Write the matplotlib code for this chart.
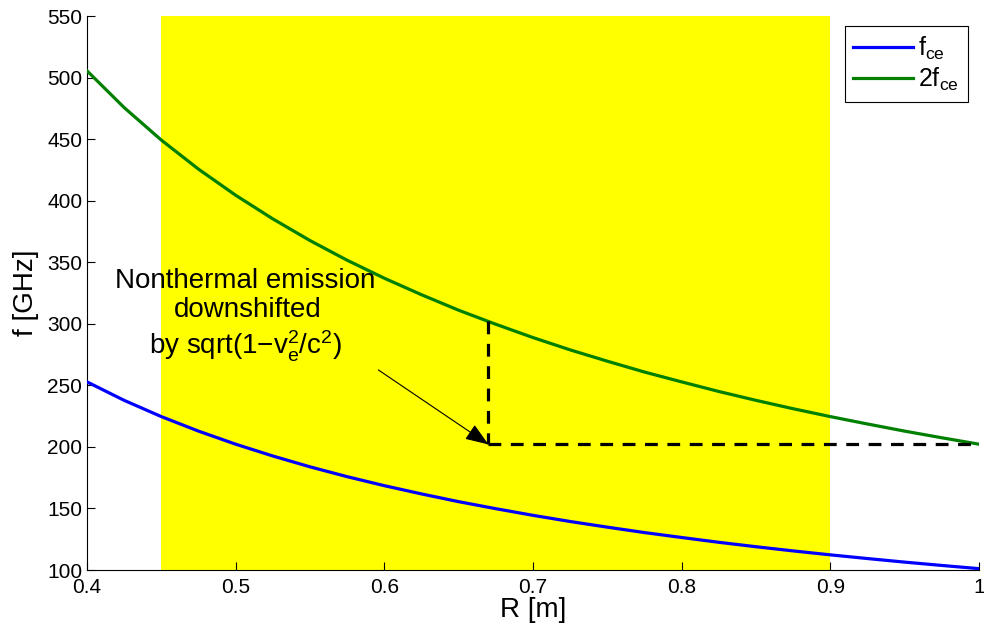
import numpy as np
import matplotlib as mpl
mpl.use('Agg')
import matplotlib.pyplot as plt

plt.rcParams['font.family'] = ['Liberation Sans', 'DejaVu Sans']
plt.rcParams['mathtext.fontset'] = 'custom'
plt.rcParams['mathtext.rm'] = 'Liberation Sans'
plt.rcParams['mathtext.it'] = 'Liberation Sans'

# major radius [m]
R = [0.4, 0.425, 0.45, 0.475, 0.5, 0.525, 0.55, 0.575, 0.6, 0.625, 0.65, 0.675, 0.7,
     0.725, 0.75, 0.775, 0.8, 0.825, 0.85, 0.875, 0.9, 0.925, 0.95, 0.975, 1.0]
# electron cyclotron frequency [GHz]
f_ce = [252.8, 237.8, 224.6, 212.8, 202.2, 192.6, 183.8, 175.8, 168.5, 161.8, 155.5, 149.8, 144.4,
        139.4, 134.8, 130.4, 126.4, 122.5, 118.9, 115.5, 112.3, 109.3, 106.4, 103.7, 101.1]
# second harmonic [GHz]
f_2ce = [505.5, 475.6, 449.2, 425.6, 404.4, 385.2, 367.6, 351.6, 337.0, 323.6, 311.0, 299.6, 288.8,
         278.8, 269.6, 260.8, 252.8, 245.0, 237.8, 231.0, 224.6, 218.6, 212.8, 207.4, 202.2]

band = (0.45, 0.9)
shift_R = 0.67
shift_top = 302
shift_bot = 202

fig = plt.figure(figsize=(9.84, 6.36), dpi=100)
ax = fig.add_axes([87/984, 1 - 570/636, (979-87)/984, (570-16)/636])

ax.axvspan(band[0], band[1], color=(1, 1, 0), lw=0, zorder=0)
ax.plot(R, f_ce, color=(0, 0, 1), lw=2.3, label=r'$\mathregular{f_{ce}}$', zorder=3)
ax.plot(R, f_2ce, color=(0, 0.5, 0), lw=2.3, label=r'$\mathregular{2f_{ce}}$', zorder=3)

ax.plot([shift_R, shift_R], [shift_top, shift_bot], 'k--', lw=2.3, dashes=(4, 3), zorder=4)
ax.plot([shift_R, 1.0], [shift_bot, shift_bot], 'k--', lw=2.3, dashes=(4, 3), zorder=4)

ax.annotate('', xy=(shift_R, shift_bot), xytext=(0.596, 262.5),
            arrowprops=dict(arrowstyle='-|>,head_length=0.8,head_width=0.3', color='k', lw=0.8,
                            mutation_scale=18, shrinkA=0, shrinkB=0), zorder=5)

ax.text(0.5065, 335, 'Nonthermal emission', ha='center', va='center', fontsize=20)
ax.text(0.508, 311, 'downshifted', ha='center', va='center', fontsize=20)
ax.text(0.5065, 282, r'by sqrt(1$\mathregular{-v_e^2/c^2}$)', ha='center', va='center', fontsize=20)

ax.set_xlim(0.4, 1.0)
ax.set_ylim(100, 550)
ax.set_xticks([0.4, 0.5, 0.6, 0.7, 0.8, 0.9, 1.0])
ax.set_xticklabels(['0.4', '0.5', '0.6', '0.7', '0.8', '0.9', '1'])
ax.set_yticks(np.arange(100, 551, 50))
ax.tick_params(direction='in', labelsize=15, length=6, width=0.8)
ax.tick_params(axis='x', pad=6)
ax.spines['top'].set_visible(False)
ax.spines['right'].set_visible(False)
ax.set_xlabel('R [m]', fontsize=20, labelpad=0)
ax.set_ylabel('f [GHz]', fontsize=20, labelpad=6)

leg = ax.legend(loc='upper right', bbox_to_anchor=(968/984, 1 - 26/636), bbox_transform=fig.transFigure,
                borderaxespad=0, fontsize=18, frameon=True, fancybox=False, handlelength=2.4,
                borderpad=0.35, labelspacing=0.15, handletextpad=0.2)
leg.get_frame().set_edgecolor('k')
leg.get_frame().set_linewidth(0.8)
leg.get_frame().set_alpha(1)

fig.savefig('out.png', dpi=100)
